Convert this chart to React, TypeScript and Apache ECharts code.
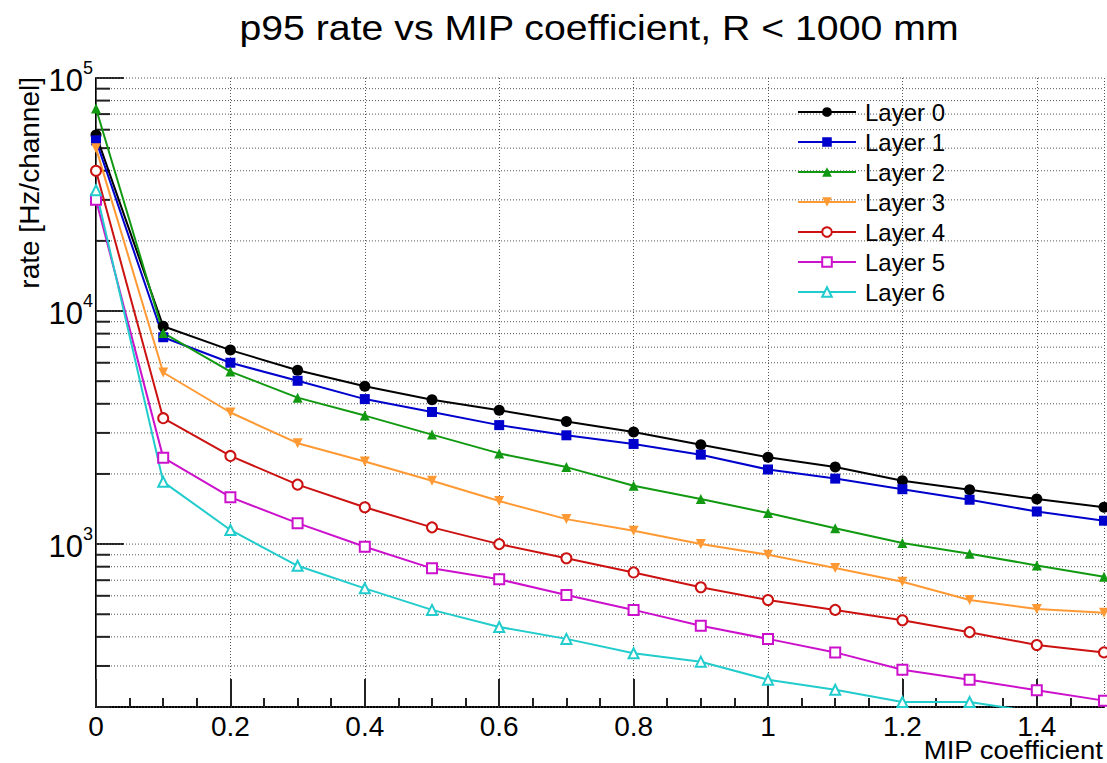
import React, { useEffect, useRef } from "react";
import * as echarts from "echarts";

const FONT = "'Liberation Sans', Arial, Helvetica, sans-serif";

const titleText = "p95 rate vs MIP coefficient, R < 1000 mm";
const yTitle = "rate [Hz/channel]";
const xTitle = "MIP coefficient";

const xValues = [0, 0.1, 0.2, 0.3, 0.4, 0.5, 0.6, 0.7, 0.8, 0.9, 1.0, 1.1, 1.2, 1.3, 1.4, 1.5];

const layerNames = ["Layer 0", "Layer 1", "Layer 2", "Layer 3", "Layer 4", "Layer 5", "Layer 6"];

const layer0 = [57000, 8600, 6800, 5570, 4760, 4160, 3750, 3360, 3030, 2670, 2360, 2140, 1870, 1710, 1560, 1440];
const layer1 = [54000, 7720, 6000, 5020, 4190, 3690, 3240, 2930, 2690, 2420, 2090, 1910, 1720, 1550, 1380, 1260];
const layer2 = [74000, 8060, 5500, 4250, 3560, 2950, 2450, 2140, 1780, 1560, 1360, 1170, 1010, 910, 810, 725];
const layer3 = [50000, 5450, 3670, 2710, 2260, 1870, 1530, 1280, 1140, 1000, 900, 790, 690, 576, 527, 508];
const layer4 = [40000, 3470, 2390, 1800, 1440, 1180, 1000, 870, 756, 653, 576, 522, 471, 419, 369, 343];
const layer5 = [30000, 2350, 1590, 1230, 974, 787, 706, 605, 522, 446, 392, 343, 289, 262, 236, 213];
const layer6 = [33000, 1850, 1150, 807, 646, 522, 441, 392, 340, 313, 262, 237, 210, 210, 190, null];

const layerValues = [layer0, layer1, layer2, layer3, layer4, layer5, layer6];

const layerColors = ["#000000", "#0000cc", "#119911", "#ff9933", "#cc1111", "#cc11cc", "#22cccc"];
const layerSymbols = ["circle", "rect", "triangle", "triangle", "emptyCircle", "emptyRect", "emptyTriangle"];
const layerSymbolRotate = [0, 0, 0, 180, 0, 0, 0];

const yMin = 200;
const yMax = 100000;
const xMin = 0;
const xMax = 1.5;

// log grid values (every 1..9 x 10^n)
const yGridValues = [
  200, 300, 400, 500, 600, 700, 800, 900,
  1000, 2000, 3000, 4000, 5000, 6000, 7000, 8000, 9000,
  10000, 20000, 30000, 40000, 50000, 60000, 70000, 80000, 90000,
  100000,
];
const yMajorValues = [1000, 10000, 100000];

export default function App() {
  const ref = useRef<HTMLDivElement>(null);

  useEffect(() => {
    if (!ref.current) return;
    const chart = echarts.init(ref.current, undefined, { renderer: "svg" });

    const lineSeries = layerNames.map((name, i) => ({
      name,
      type: "line",
      xAxisIndex: 0,
      yAxisIndex: 0,
      data: xValues.map((x, j) => [x, layerValues[i][j]]),
      symbol: layerSymbols[i],
      symbolSize: i === 0 ? 11 : 10,
      symbolRotate: layerSymbolRotate[i],
      showAllSymbol: true,
      connectNulls: false,
      clip: true,
      z: 5,
      lineStyle: { color: layerColors[i], width: 2 },
      itemStyle: { color: layerColors[i], borderColor: layerColors[i], borderWidth: i >= 4 ? 1.5 : 0 },
      emphasis: { disabled: true },
    }));

    const gridSeries = {
      type: "custom",
      name: "grid",
      xAxisIndex: 0,
      yAxisIndex: 0,
      silent: true,
      z: 1,
      clip: false,
      data: yGridValues.map((v) => [xMin, v]),
      encode: { x: 0, y: 1 },
      renderItem: (params: any, api: any) => {
        const v = api.value(1);
        const a = api.coord([xMin, v]);
        const b = api.coord([xMax, v]);
        const children: any[] = [
          {
            type: "line",
            shape: { x1: a[0], y1: a[1], x2: b[0], y2: b[1] },
            style: { stroke: "#555", lineWidth: 1, lineDash: [1, 2] },
          },
        ];
        if (yMajorValues.indexOf(v) < 0) {
          children.push({
            type: "line",
            shape: { x1: a[0], y1: a[1], x2: a[0] + 14, y2: a[1] },
            style: { stroke: "#222", lineWidth: 2 },
          });
        }
        return { type: "group", children };
      },
    };

    const option: any = {
      animation: false,
      backgroundColor: "#ffffff",
      textStyle: { fontFamily: FONT },
      grid: { left: 96, top: 78, width: 1008, height: 629, containLabel: false },
      legend: {
        data: layerNames,
        orient: "vertical",
        left: 797,
        top: 100,
        padding: 0,
        itemWidth: 58,
        itemHeight: 12,
        itemGap: 6,
        selectedMode: false,
        textStyle: { fontSize: 24, fontFamily: FONT, color: "#000", lineHeight: 24, padding: [0, 0, 0, 4] },
      },
      xAxis: [
        {
          type: "value",
          min: xMin,
          max: xMax,
          interval: 0.2,
          position: "bottom",
          axisLine: { show: true, lineStyle: { color: "#000", width: 2 } },
          axisTick: { show: true, inside: true, length: 28, lineStyle: { color: "#222", width: 2 } },
          axisLabel: {
            show: true,
            fontSize: 28,
            fontFamily: FONT,
            color: "#000",
            margin: 5,
            showMaxLabel: false,
            formatter: (v: number) => String(Math.round(v * 10) / 10),
          },
          splitLine: { show: true, lineStyle: { color: "#555", width: 1, type: [1, 2] } },
        },
        {
          type: "value",
          min: xMin,
          max: xMax,
          interval: 0.05,
          position: "bottom",
          axisLine: { show: false },
          axisTick: { show: true, inside: true, length: 9, lineStyle: { color: "#222", width: 2 } },
          axisLabel: { show: false },
          splitLine: { show: false },
        },
      ],
      yAxis: [
        {
          type: "log",
          logBase: 10,
          min: yMin,
          max: yMax,
          position: "left",
          axisLine: { show: true, lineStyle: { color: "#000", width: 2 } },
          axisTick: { show: true, inside: true, length: 28, lineStyle: { color: "#222", width: 2 } },
          axisLabel: {
            show: true,
            showMinLabel: false,
            margin: 3,
            formatter: (v: number) => `{b|10}{s|${Math.round(Math.log10(v))}}`,
            rich: {
              b: { fontSize: 31, fontFamily: FONT, color: "#000", padding: [4, 0, 0, 0] },
              s: { fontSize: 18, fontFamily: FONT, color: "#000", padding: [0, 0, 20, 0] },
            },
          },
          splitLine: { show: false },
        },
        {
          type: "log",
          logBase: 10,
          min: yMin,
          max: yMax,
          position: "right",
          axisLine: { show: true, lineStyle: { color: "#555", width: 1 } },
          axisTick: { show: false },
          axisLabel: { show: false },
          splitLine: { show: false },
        },
      ],
      graphic: [
        {
          type: "text",
          x: 599,
          y: 28,
          scaleX: 1.09,
          style: {
            text: titleText,
            fontSize: 36,
            fontFamily: FONT,
            fill: "#000",
            textAlign: "center",
            textVerticalAlign: "middle",
            align: "center",
            verticalAlign: "middle",
          },
        },
        {
          type: "text",
          x: 29,
          y: 77,
          rotation: Math.PI / 2,
          style: {
            text: yTitle,
            fontSize: 28,
            fontFamily: FONT,
            fill: "#000",
            textAlign: "right",
            textVerticalAlign: "middle",
            align: "right",
            verticalAlign: "middle",
          },
        },
        {
          type: "text",
          x: 1103,
          y: 750,
          scaleX: 1.1,
          style: {
            text: xTitle,
            fontSize: 25,
            fontFamily: FONT,
            fill: "#000",
            textAlign: "right",
            textVerticalAlign: "middle",
            align: "right",
            verticalAlign: "middle",
          },
        },
      ],
      series: [gridSeries, ...lineSeries],
    };

    chart.setOption(option);
    return () => {
      chart.dispose();
    };
  }, []);

  return (
    <div
      ref={ref}
      style={{ position: "absolute", left: 0, top: 0, width: 1107, height: 763, background: "#fff" }}
    />
  );
}
